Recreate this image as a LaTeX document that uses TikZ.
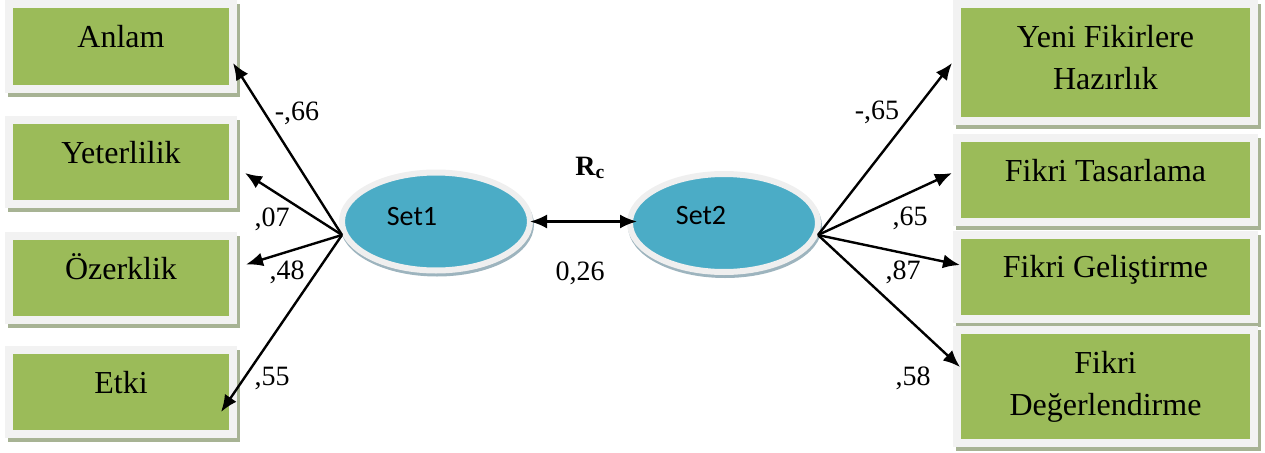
\documentclass[tikz,border=0pt]{standalone}
\usepackage{fontspec}
\setmainfont{Liberation Serif}
\newfontfamily\calib{Carlito}
\usetikzlibrary{arrows.meta,calc,shapes.geometric}
\definecolor{boxgreen}{HTML}{9BBB59}
\definecolor{framegray}{HTML}{F2F2F2}
\definecolor{shadowcol}{HTML}{A7B394}
\definecolor{setblue}{HTML}{4BACC6}
\definecolor{rimgray}{HTML}{EFEFEF}
\definecolor{rimshadow}{HTML}{9DB4BE}
\begin{document}
\begin{tikzpicture}[x=1pt,y=-1pt,
  gbox/.style={rectangle, fill=boxgreen, draw=framegray, line width=8pt, inner sep=0pt,
    preaction={draw=shadowcol, fill=shadowcol, line width=8pt, transform canvas={shift={(3pt,-4pt)}}}},
  setnode/.style={ellipse, fill=setblue, draw=rimgray, line width=6pt, inner sep=0pt,
    minimum width=188pt, minimum height=98pt,
    preaction={draw=rimshadow, fill=rimshadow, line width=6pt, transform canvas={shift={(1pt,-3pt)}}}},
  boxtext/.style={inner sep=0pt, anchor=base, align=center, font=\fontsize{32}{42}\selectfont},
  settext/.style={inner sep=0pt, font=\calib\fontsize{28}{32}\selectfont},
  lab/.style={inner sep=0pt, font=\fontsize{28}{32}\selectfont},
  arr/.style={-{Latex[length=17pt,width=14pt]}, line width=2.4pt},
  darr/.style={{Latex[length=17pt,width=14pt]}-{Latex[length=17pt,width=14pt]}, line width=2.4pt}]
\useasboundingbox (0,0) rectangle (1265,452);

% left boxes
\node[gbox, minimum width=224pt, minimum height=84pt] (anlam) at (121,46.5) {};
\node[gbox, minimum width=224pt, minimum height=84pt] (yeter) at (121,162) {};
\node[gbox, minimum width=224pt, minimum height=84pt] (ozerk) at (121,277.5) {};
\node[gbox, minimum width=224pt, minimum height=84pt] (etki) at (121,392) {};
\node[boxtext] (anlamT) at (121,48) {Anlam};
\node[boxtext] (yeterT) at (121,163) {Yeterlilik};
\node[boxtext] (ozerkT) at (121,279) {Özerklik};
\node[boxtext] (etkiT) at (121,393) {Etki};

% right boxes
\node[gbox, minimum width=297pt, minimum height=117pt] (yeni) at (1105.5,62.5) {};
\node[gbox, minimum width=297pt, minimum height=84pt] (tasar) at (1105.5,180) {};
\node[gbox, minimum width=297pt, minimum height=84pt] (gelis) at (1105.5,277) {};
\node[gbox, minimum width=297pt, minimum height=113pt] (deger) at (1105.5,386.5) {};
\node[boxtext] (yeniT) at (1105.5,89) {Yeni Fikirlere\\Hazırlık};
\node[boxtext] (tasarT) at (1105.5,181) {Fikri Tasarlama};
\node[boxtext] (gelisT) at (1105.5,277) {Fikri Geliştirme};
\node[boxtext] (degerT) at (1105.5,415) {Fikri\\Değerlendirme};

% sets
\node[setnode] (set1) at (436,221.5) {};
\node[setnode] (set2) at (724,223) {};
\node[settext] (set1T) at (412,217) {Set1};
\node[settext] (set2T) at (701,216) {Set2};

% origins and tips
\coordinate (o1) at ($(set1.center)+(-94,13.5)$);
\coordinate (o2) at ($(set2.center)+(94,12)$);
\coordinate (tAnlam) at ($(anlam.east)+(-4,16.5)$);
\coordinate (tYeter) at ($(yeter.east)+(8,11)$);
\coordinate (tOzerk) at ($(ozerk.east)+(9,-13)$);
\coordinate (tEtki) at ($(etki.east)+(-16,20)$);
\coordinate (tYeni) at ($(yeni.west)+(-1,0.5)$);
\coordinate (tTasar) at ($(tasar.west)+(-1,-7)$);
\coordinate (tGelis) at ($(gelis.west)+(7,-12)$);
\coordinate (tDeger) at ($(deger.west)+(7,-19.5)$);

\draw[arr] (o1) -- (tAnlam);
\draw[arr] (o1) -- (tYeter);
\draw[arr] (o1) -- (tOzerk);
\draw[arr] (o1) -- (tEtki);
\draw[arr] (o2) -- (tYeni);
\draw[arr] (o2) -- (tTasar);
\draw[arr] (o2) -- (tGelis);
\draw[arr] (o2) -- (tDeger);
\draw[darr, shorten <=-3pt, shorten >=-10pt] (set1.east) -- (set1.east -| set2.west);

% labels
\node[lab] (l1) at (297,113) {-,66};
\node[lab] (l2) at (272,219) {,07};
\node[lab] (l3) at (287,272) {,48};
\node[lab] (l4) at (272,378) {,55};
\node[lab] (r1) at (877,112) {-,65};
\node[lab] (r2) at (910,218) {,65};
\node[lab] (r3) at (903,272) {,87};
\node[lab] (r4) at (913,378) {,58};
\node[lab] (rc) at (590,168) {\textbf{R\textsubscript{c}}};
\node[lab] (corr) at (580,273) {0,26};
\end{tikzpicture}
\end{document}
